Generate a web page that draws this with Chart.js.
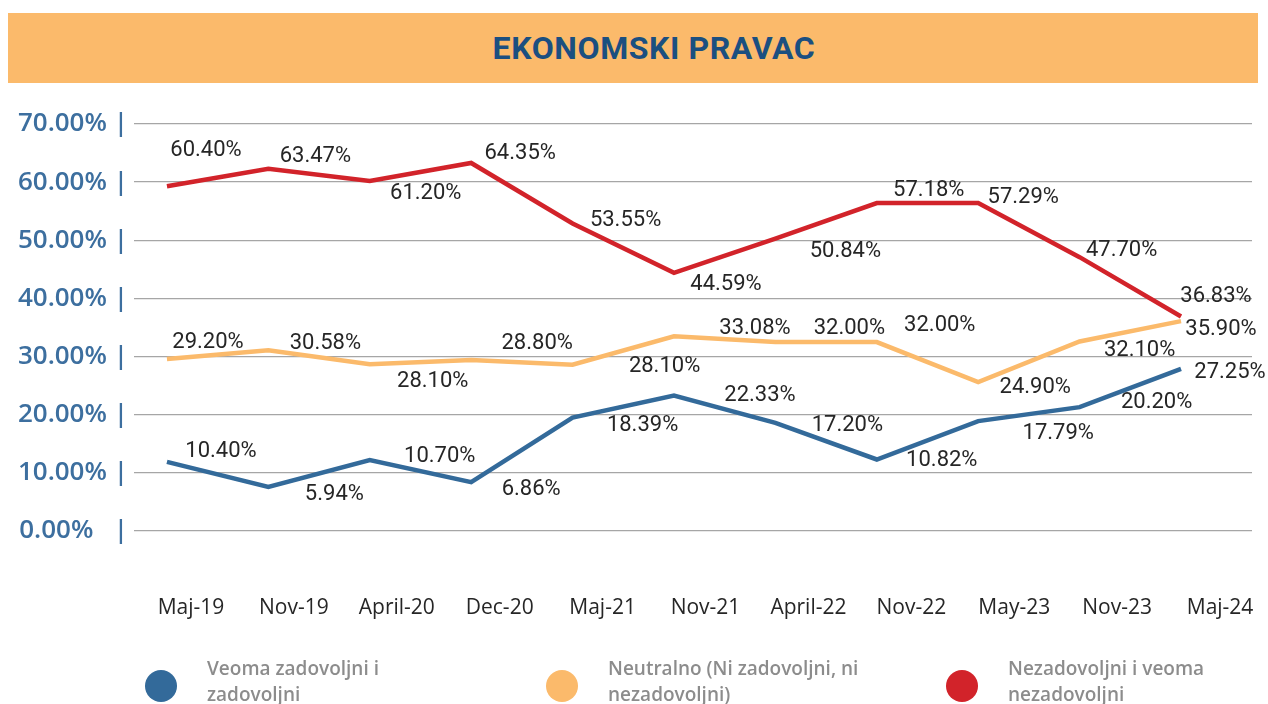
<!DOCTYPE html>
<html>
<head>
<meta charset="utf-8">
<script src="https://cdn.jsdelivr.net/npm/chart.js@4/dist/chart.umd.min.js"></script>
<style>
    body { margin: 0; width: 1268px; height: 704px; background: #fff; position: relative; overflow: hidden; }
    #chart { position: absolute; left: 0; top: 0; }
    .title {
        position: absolute; left: 8px; top: 13px; width: 1250px; height: 70px; box-sizing: border-box;
        padding-left: 42px;
        background: #FBBA6B; color: #1B4F80; font: bold 32px Roboto, sans-serif;
        display: flex; align-items: center; justify-content: center; letter-spacing: 0.6px;
    }
    .legend-dot { position: absolute; width: 32px; height: 32px; border-radius: 50%; top: 670px; }
    .legend-text {
        position: absolute; top: 655px; color: #8C8C8C;
        font: 600 19px "Open Sans", sans-serif; line-height: 26px; white-space: nowrap;
    }
</style>
</head>
<body>
<canvas id="chart" width="1268" height="704"></canvas>
<div class="title">EKONOMSKI PRAVAC</div>
<div id="legend"></div>
<script>
    // Kategorien (x-Achse)
    const months = ['Maj-19', 'Nov-19', 'April-20', 'Dec-20', 'Maj-21', 'Nov-21', 'April-22', 'Nov-22', 'May-23', 'Nov-23', 'Maj-24'];

    // Werte der Linien
    const satisfied = [11.9, 7.6, 12.2, 8.4, 19.5, 23.3, 18.6, 12.3, 18.9, 21.3, 27.9];
    const neutral = [29.6, 31.1, 28.7, 29.4, 28.6, 33.5, 32.5, 32.5, 25.6, 32.6, 36.1];
    const dissatisfied = [59.3, 62.3, 60.2, 63.3, 52.9, 44.4, 50.3, 56.4, 56.4, 47.1, 36.9];

    // Beschriftungen der Punkte
    const satisfiedLabels = [10.40, 5.94, 10.70, 6.86, 18.39, 22.33, 17.20, 10.82, 17.79, 20.20, 27.25];
    const neutralLabels = [29.20, 30.58, 28.10, 28.80, 28.10, 33.08, 32.00, 32.00, 24.90, 32.10, 35.90];
    const dissatisfiedLabels = [60.40, 63.47, 61.20, 64.35, 53.55, 44.59, 50.84, 57.18, 57.29, 47.70, 36.83];

    // y-Achse
    const yTicks = [0, 10, 20, 30, 40, 50, 60, 70];

    const seriesNames = ['Veoma zadovoljni i<br>zadovoljni', 'Neutralno (Ni zadovoljni, ni<br>nezadovoljni)', 'Nezadovoljni i veoma<br>nezadovoljni'];
    const colors = ['#336A9A', '#FBBA6B', '#D2232A'];

    // Versatz der Beschriftungen relativ zum Punkt (Pixel)
    const labelOffsets = [
        [[54, -10], [66, 8], [70, -4], [60, 7], [70, 8], [86, 0], [72, 3], [65, 1], [80, 12], [77, -5], [49, 4]],
        [[41, -16], [57, -7], [63, 17], [66, -17], [92, 2], [81, -8], [74, -14], [63, -17], [57, 5], [60, 9], [40, 8]],
        [[39, -36], [47, -12], [56, 13], [49, -9], [53, -3], [52, 12], [70, 13], [52, -13], [45, -6], [42, -7], [35, -20]]
    ];
    const allLabels = [satisfiedLabels, neutralLabels, dissatisfiedLabels];

    // Achsenbeschriftungen sitzen etwas rechts von den Punkten
    const xLabelShift = 0.237;
    const xLabelStep = 1.0148;

    const toPoints = values => values.map((v, i) => ({x: i, y: v}));

    const valueLabels = {
        id: 'valueLabels',
        afterDatasetsDraw(chart) {
            const ctx = chart.ctx;
            ctx.save();
            ctx.font = '22px Roboto, sans-serif';
            ctx.fillStyle = '#262626';
            ctx.textAlign = 'center';
            ctx.textBaseline = 'middle';
            chart.data.datasets.forEach((ds, d) => {
                chart.getDatasetMeta(d).data.forEach((pt, i) => {
                    const off = labelOffsets[d][i];
                    ctx.fillText(allLabels[d][i].toFixed(2) + '%', pt.x + off[0], pt.y + off[1]);
                });
            });
            ctx.restore();
        }
    };

    new Chart(document.getElementById('chart'), {
        type: 'line',
        data: {
            datasets: [satisfied, neutral, dissatisfied].map((values, d) => ({
                data: toPoints(values),
                borderColor: colors[d],
                backgroundColor: colors[d],
                borderWidth: 4.5,
                pointRadius: 0,
                tension: 0,
                fill: false
            }))
        },
        options: {
            responsive: false,
            animation: false,
            layout: {padding: {top: 124, right: 16, left: 0, bottom: 0}},
            plugins: {legend: {display: false}, tooltip: {enabled: false}},
            scales: {
                x: {
                    type: 'linear',
                    min: -0.325,
                    max: 10.7,
                    afterBuildTicks: axis => {
                        axis.ticks = months.map((m, i) => ({value: i * xLabelStep + xLabelShift}));
                    },
                    afterFit: axis => {
                        axis.height = 173;
                        axis.paddingLeft = 0;
                        axis.paddingRight = 0;
                    },
                    grid: {display: false},
                    border: {display: false},
                    ticks: {
                        autoSkip: false,
                        maxRotation: 0,
                        padding: 56,
                        color: '#262626',
                        font: {family: 'Open Sans', size: 21},
                        callback: (v, i) => months[i]
                    }
                },
                y: {
                    min: 0,
                    max: 70,
                    afterBuildTicks: axis => { axis.ticks = yTicks.map(v => ({value: v})); },
                    afterFit: axis => { axis.width = 134; },
                    grid: {color: '#A6A6A6', lineWidth: 1.3, drawTicks: false},
                    border: {display: false},
                    ticks: {
                        padding: 6,
                        color: '#3D6F9F',
                        font: {family: 'Open Sans', size: 26, weight: '600'},
                        callback: v => v === 0 ? '0.00%   |' : v.toFixed(2) + '% |'
                    }
                }
            }
        },
        plugins: [valueLabels]
    });

    // Legende als HTML
    const legend = document.getElementById('legend');
    const legendX = [145, 546, 946];
    seriesNames.forEach((name, d) => {
        const dot = document.createElement('div');
        dot.className = 'legend-dot';
        dot.style.left = legendX[d] + 'px';
        dot.style.background = colors[d];
        legend.appendChild(dot);
        const text = document.createElement('div');
        text.className = 'legend-text';
        text.style.left = (legendX[d] + 62) + 'px';
        text.innerHTML = name;
        legend.appendChild(text);
    });
</script>
</body>
</html>
